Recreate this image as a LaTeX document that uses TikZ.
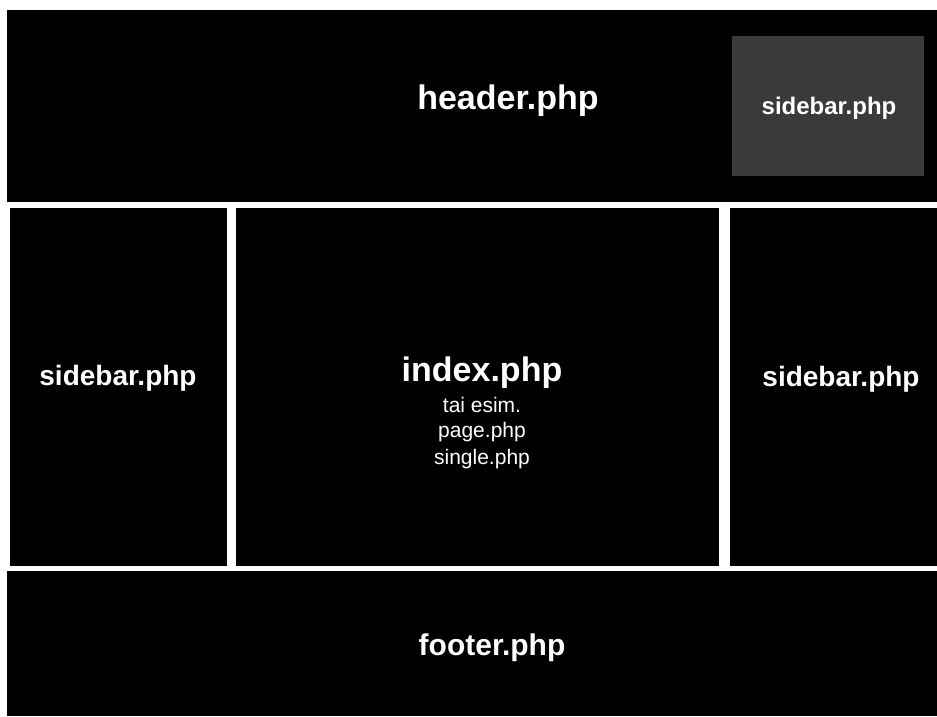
\documentclass[tikz,border=0pt]{standalone}
\usepackage{fontspec}
\setmainfont{Liberation Sans}
\definecolor{panelgray}{HTML}{3A3A3A}
\begin{document}
\begin{tikzpicture}[x=1pt,y=-1pt,
  panel/.style={fill=black,draw=none},
  lbl/.style={text=white,inner sep=0pt,font=\bfseries\fontsize{#1}{#1}\selectfont},
  small/.style={text=white,inner sep=0pt,font=\fontsize{21}{21}\selectfont}]
\fill[white] (0,0) rectangle (937,716);
\useasboundingbox (0,0) rectangle (937,716);
\path[panel] (7,10) rectangle (937,202);
\path[panel] (10,208) rectangle (227,566);
\path[panel] (236,208) rectangle (719,566);
\path[panel] (730,208) rectangle (937,566);
\path[panel] (7,571) rectangle (937,716);
\path[fill=panelgray] (732,36) rectangle (924,176);
\node[lbl=34] (header) at (508,101) {header.php};
\node[lbl=24] (sbtop) at (829,108) {sidebar.php};
\node[lbl=28] (sbleft) at (118,378) {sidebar.php};
\node[lbl=28] (sbright) at (841,379) {sidebar.php};
\node[lbl=34] (index) at (482,373) {index.php};
\node[small] (t1) at (482,405) {tai esim.};
\node[small] (t2) at (482,432) {page.php};
\node[small] (t3) at (482,459) {single.php};
\node[lbl=30] (footer) at (492,648) {footer.php};
\end{tikzpicture}
\end{document}
